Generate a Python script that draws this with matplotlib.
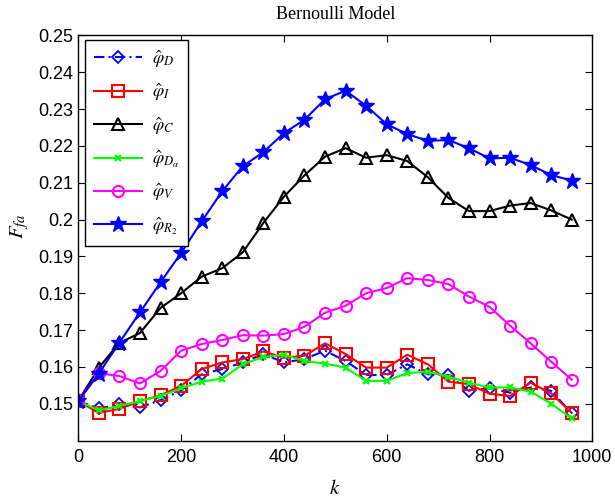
import numpy as np
import matplotlib.pyplot as plt

plt.rcParams['mathtext.fontset'] = 'stix'
plt.rcParams['font.family'] = 'Liberation Sans'

k = np.arange(0, 1000, 40)

phi_D = [0.1507, 0.1487, 0.1498, 0.1490, 0.1510, 0.1536, 0.1580, 0.1594, 0.1612,
         0.1635, 0.1612, 0.1621, 0.1644, 0.1616, 0.1578, 0.1578, 0.1607, 0.1580,
         0.1578, 0.1535, 0.1542, 0.1530, 0.1544, 0.1535, 0.1474]
phi_I = [0.1507, 0.1475, 0.1486, 0.1507, 0.1523, 0.1548, 0.1594, 0.1612, 0.1621,
         0.1642, 0.1625, 0.1630, 0.1664, 0.1635, 0.1598, 0.1598, 0.1633, 0.1607,
         0.1560, 0.1553, 0.1527, 0.1521, 0.1557, 0.1528, 0.1475]
phi_C = [0.1507, 0.1598, 0.1665, 0.1692, 0.1760, 0.1800, 0.1845, 0.1868, 0.1911,
         0.1991, 0.2062, 0.2120, 0.2171, 0.2194, 0.2168, 0.2175, 0.2159, 0.2115,
         0.2059, 0.2023, 0.2023, 0.2038, 0.2045, 0.2025, 0.2000]
phi_Da = [0.1507, 0.1482, 0.1494, 0.1507, 0.1521, 0.1542, 0.1560, 0.1568, 0.1607,
          0.1627, 0.1633, 0.1616, 0.1609, 0.1598, 0.1562, 0.1562, 0.1583, 0.1587,
          0.1573, 0.1557, 0.1544, 0.1544, 0.1533, 0.1500, 0.1460]
phi_V = [0.1507, 0.1583, 0.1575, 0.1555, 0.1589, 0.1644, 0.1662, 0.1673, 0.1686,
         0.1685, 0.1689, 0.1709, 0.1747, 0.1766, 0.1800, 0.1814, 0.1841, 0.1836,
         0.1825, 0.1791, 0.1763, 0.1712, 0.1664, 0.1614, 0.1565]
phi_R2 = [0.1507, 0.1582, 0.1666, 0.1748, 0.1830, 0.1909, 0.1995, 0.2077, 0.2145,
          0.2183, 0.2235, 0.2271, 0.2327, 0.2350, 0.2309, 0.2259, 0.2232, 0.2214,
          0.2216, 0.2194, 0.2166, 0.2168, 0.2148, 0.2121, 0.2106]

fig = plt.figure(figsize=(6.15, 4.99), dpi=100)
ax = fig.add_axes([0.1273, 0.1172, 0.8358, 0.8117])

lw = 1.5
ax.plot(k, phi_D, color='blue', lw=lw, dashes=[5, 2, 1, 2], marker='D', ms=6,
        mfc='none', mew=1.3, label=r'$\hat{\varphi}_D$')
ax.plot(k, phi_I, color='red', lw=lw, marker='s', ms=8, mfc='none', mew=1.5,
        label=r'$\hat{\varphi}_I$')
ax.plot(k, phi_C, color='black', lw=lw, marker='^', ms=9, mfc='none', mew=1.5,
        label=r'$\hat{\varphi}_C$')
ax.plot(k, phi_Da, color='#00ff00', lw=lw, marker='x', ms=4, mew=1.5,
        label=r'$\hat{\varphi}_{D_\alpha}$')
ax.plot(k, phi_V, color='magenta', lw=lw, marker='o', ms=8, mfc='none', mew=1.5,
        label=r'$\hat{\varphi}_V$')
ax.plot(k, phi_R2, color='blue', lw=lw, marker='*', ms=12,
        label=r'$\hat{\varphi}_{R_2}$')

ax.set_xlim(0, 1000)
ax.set_ylim(0.14, 0.25)
ax.set_xticks(np.arange(0, 1001, 200))
ax.set_yticks(np.arange(0.15, 0.2501, 0.01))
ax.set_yticklabels(['0.15', '0.16', '0.17', '0.18', '0.19', '0.2',
                    '0.21', '0.22', '0.23', '0.24', '0.25'])
ax.tick_params(direction='in', top=True, right=True, length=5, width=0.8,
               labelsize=13)
ax.tick_params(axis='x', pad=6)
ax.tick_params(axis='y', pad=3.5)
for s in ax.spines.values():
    s.set_linewidth(1.0)

ax.set_title('Bernoulli Model', fontsize=13, family='Liberation Serif', pad=12)
ax.set_xlabel(r'$k$', fontsize=15)
ax.xaxis.set_label_coords(0.5, -0.095)
ax.set_ylabel(r'$F_{fa}$', fontsize=15)
ax.yaxis.set_label_coords(-0.092, 0.53)

leg = ax.legend(loc='upper left', bbox_to_anchor=(0.013, 0.99), fontsize=13,
                handlelength=2.65, labelspacing=0.67, borderpad=0.5,
                borderaxespad=0, handletextpad=0.55, fancybox=False,
                framealpha=1, edgecolor='black')
leg.get_frame().set_linewidth(1.0)

fig.savefig('out.png', dpi=100)
